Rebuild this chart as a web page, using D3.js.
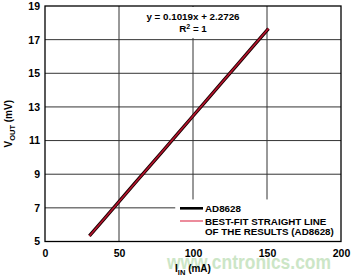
<!DOCTYPE html>
<html><head><meta charset="utf-8">
<script src="https://cdn.jsdelivr.net/npm/d3@7"></script>
<style>body{margin:0;background:#fff}svg{display:block}text{font-family:"Liberation Sans",Arial,sans-serif;font-weight:bold}</style>
</head><body><svg id="c" width="351" height="279"></svg>
<script>
const xTicks = [0, 50, 100, 150, 200];
const yTicks = [5, 7, 9, 11, 13, 15, 17, 19];
const measuredX = [30, 40, 50, 60, 70, 80, 90, 100, 110, 120, 130, 140, 151];
const measuredY = [5.33, 6.35, 7.37, 8.39, 9.41, 10.42, 11.44, 12.46, 13.48, 14.50, 15.52, 16.54, 17.66];
const fitX = [30, 151];
const fitY = [5.33, 17.66];
const equationLines = ["y = 0.1019x + 2.2726", "R2 = 1"];
const legendLabels = ["AD8628", "BEST-FIT STRAIGHT LINE", "OF THE RESULTS (AD8628)"];

const svg = d3.select("#c");
const L = 45, R = 341, T = 6, B = 241.5;
const x = d3.scaleLinear().domain([0, 200]).range([L, R]);
const y = d3.scaleLinear().domain([5, 19]).range([B, T]);

// watermark (behind)
svg.append("text").attr("x", 249).attr("y", 269).attr("text-anchor", "middle")
  .attr("font-size", 20.5).attr("font-weight", "normal").attr("fill", "#c4e2bd").attr("opacity", 0.85)
  .attr("textLength", 164).attr("lengthAdjust", "spacingAndGlyphs")
  .text("www.cntronics.com");

// grid
svg.append("g").selectAll("line").data(xTicks.slice(1, -1)).join("line")
  .attr("x1", d => x(d)).attr("x2", d => x(d)).attr("y1", T).attr("y2", B)
  .attr("stroke", "#333").attr("stroke-width", 1);
svg.append("g").selectAll("line").data(yTicks.slice(1, -1)).join("line")
  .attr("x1", L).attr("x2", R).attr("y1", d => y(d)).attr("y2", d => y(d))
  .attr("stroke", "#333").attr("stroke-width", 1);

// equation box
svg.append("rect").attr("x", x(65)).attr("y", T + 1).attr("width", x(137) - x(65)).attr("height", y(17.1) - T - 1).attr("fill", "#fff");
// legend box
svg.append("rect").attr("x", x(88)).attr("y", y(7.5)).attr("width", R - x(88)).attr("height", B - y(7.5)).attr("fill", "#fff");

// lines
const line = d3.line().x(d => x(d[0])).y(d => y(d[1]));
svg.append("path").datum(measuredX.map((v, i) => [v, measuredY[i]])).attr("d", line)
  .attr("fill", "none").attr("stroke", "#1a0000").attr("stroke-width", 3.4);
svg.append("path").datum(fitX.map((v, i) => [v, fitY[i]])).attr("d", line)
  .attr("fill", "none").attr("stroke", "#b8142e").attr("stroke-width", 1.6);

// frame
svg.append("rect").attr("x", L).attr("y", T).attr("width", R - L).attr("height", B - T)
  .attr("fill", "none").attr("stroke", "#000").attr("stroke-width", 1.3);

// axes labels via d3 axes (no lines)
const xa = svg.append("g").attr("transform", `translate(0,${B})`)
  .call(d3.axisBottom(x).tickValues(xTicks).tickSize(0).tickPadding(8).tickFormat(d3.format("d")));
xa.select(".domain").remove();
xa.selectAll("text").attr("font-size", 10.5).attr("font-weight", "bold").attr("fill", "#000").attr("font-family", "Liberation Sans, Arial, sans-serif");
const ya = svg.append("g").attr("transform", `translate(${L},0)`)
  .call(d3.axisLeft(y).tickValues(yTicks).tickSize(0).tickPadding(5).tickFormat(d3.format("d")));
ya.select(".domain").remove();
ya.selectAll("text").attr("font-size", 10.5).attr("font-weight", "bold").attr("fill", "#000").attr("font-family", "Liberation Sans, Arial, sans-serif");

// axis titles
const xt = svg.append("text").attr("x", 193).attr("y", 272).attr("text-anchor", "middle").attr("font-size", 10);
xt.append("tspan").text("I");
xt.append("tspan").attr("font-size", 7.5).attr("dy", 2.5).text("IN");
xt.append("tspan").attr("dy", -2.5).text(" (mA)");
const yt = svg.append("text").attr("transform", `translate(12,${(T + B) / 2}) rotate(-90)`).attr("text-anchor", "middle").attr("font-size", 10);
yt.append("tspan").text("V");
yt.append("tspan").attr("font-size", 7.5).attr("dy", 2.5).text("OUT");
yt.append("tspan").attr("dy", -2.5).text(" (mV)");

// equation
svg.append("text").attr("x", 193).attr("y", 20).attr("text-anchor", "middle").attr("font-size", 9.8).text(equationLines[0]);
const r2 = svg.append("text").attr("x", 193).attr("y", 32).attr("text-anchor", "middle").attr("font-size", 9.8);
r2.append("tspan").text("R");
r2.append("tspan").attr("font-size", 7).attr("dy", -3).text("2");
r2.append("tspan").attr("dy", 3).text(" = 1");

// legend
svg.append("line").attr("x1", 180).attr("x2", 203).attr("y1", 208.3).attr("y2", 208.3).attr("stroke", "#000").attr("stroke-width", 2.6);
svg.append("line").attr("x1", 180).attr("x2", 203).attr("y1", 221).attr("y2", 221).attr("stroke", "#e0405a").attr("stroke-width", 1.2);
svg.append("text").attr("x", 205).attr("y", 211.5).attr("font-size", 9.8).text(legendLabels[0]);
svg.append("text").attr("x", 205).attr("y", 224.5).attr("font-size", 9.8).text(legendLabels[1]);
svg.append("text").attr("x", 205).attr("y", 234.5).attr("font-size", 9.8).text(legendLabels[2]);
</script></body></html>
